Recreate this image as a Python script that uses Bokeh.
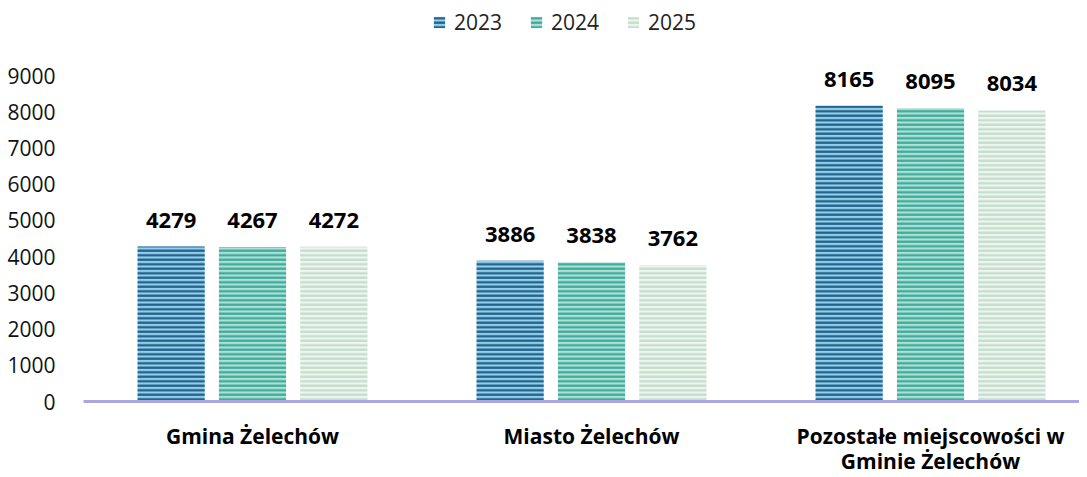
from bokeh.plotting import figure
from bokeh.models import ColumnDataSource, Range1d, FixedTicker, Legend, LegendItem
from bokeh.core.properties import value
from bokeh.embed import file_html
from bokeh.resources import INLINE

categories = ["Gmina Żelechów", "Miasto Żelechów", "Pozostałe miejscowości w\nGminie Żelechów"]
years = ["2023", "2024", "2025"]
v2023 = [4279, 3886, 8165]
v2024 = [4267, 3838, 8095]
v2025 = [4272, 3762, 8034]
y_ticks = [0, 1000, 2000, 3000, 4000, 5000, 6000, 7000, 8000, 9000]

series = [v2023, v2024, v2025]
fills = ["#93cfea", "#aee0d6", "#eef5f0"]
hatches = ["#1d5c86", "#3aa999", "#c2dccc"]
offsets = [-0.24, 0.0, 0.24]
FONT = "Open Sans"

FH = 401
p = figure(frame_width=996, frame_height=FH, output_backend="svg", toolbar_location=None,
           x_range=Range1d(-0.4985, 2.4395), y_range=Range1d(0, FH * 9000 / 326),
           min_border_left=83, min_border_right=0, min_border_top=0, min_border_bottom=68)
p.outline_line_color = None
p.xgrid.visible = False
p.ygrid.visible = False
p.background_fill_color = "white"
p.border_fill_color = "white"

items = []
xs = list(range(len(categories)))
for i, (vals, fc, hc, off, yr) in enumerate(zip(series, fills, hatches, offsets, years)):
    src = ColumnDataSource(dict(x=[x + off for x in xs], top=vals, lbl=[str(v) for v in vals]))
    r = p.vbar(x="x", top="top", width=0.198, source=src, fill_color=fc, line_color=None,
               hatch_pattern="horizontal_line", hatch_color=hc, hatch_scale=4.5, hatch_weight=2.2)
    p.text(x="x", y="top", text="lbl", source=src, text_align="center", text_baseline="bottom",
           y_offset=-19, text_font=value(FONT), text_font_size="22px", text_font_style="bold",
           text_color="#000000")
    items.append(LegendItem(label=yr, renderers=[r]))

legend = Legend(items=items, orientation="horizontal", location=(349, FH - 36),
                label_text_font=FONT, label_text_font_size="21px", label_text_color="#222222",
                glyph_width=14, glyph_height=14, spacing=27, label_standoff=8,
                border_line_color=None, background_fill_alpha=0, margin=0, padding=2)
p.add_layout(legend)

# y axis
p.yaxis.ticker = FixedTicker(ticks=y_ticks)
p.yaxis.axis_line_color = None
p.yaxis.major_tick_line_color = None
p.yaxis.minor_tick_line_color = None
p.yaxis.major_label_text_font = FONT
p.yaxis.major_label_text_font_size = "21px"
p.yaxis.major_label_text_color = "#111111"
p.yaxis.major_label_standoff = 22

# x axis
p.xaxis.ticker = FixedTicker(ticks=xs)
p.xaxis.major_label_overrides = {i: c for i, c in enumerate(categories)}
p.xaxis.axis_line_color = "#aaa6e2"
p.xaxis.axis_line_width = 3
p.xaxis.major_tick_line_color = None
p.xaxis.minor_tick_line_color = None
p.xaxis.major_label_text_font = FONT
p.xaxis.major_label_text_font_size = "21px"
p.xaxis.major_label_text_font_style = "bold"
p.xaxis.major_label_text_color = "#000000"
p.xaxis.major_label_text_line_height = 0.92
p.xaxis.major_label_standoff = 14

open("out.html", "w").write(file_html(p, INLINE))
